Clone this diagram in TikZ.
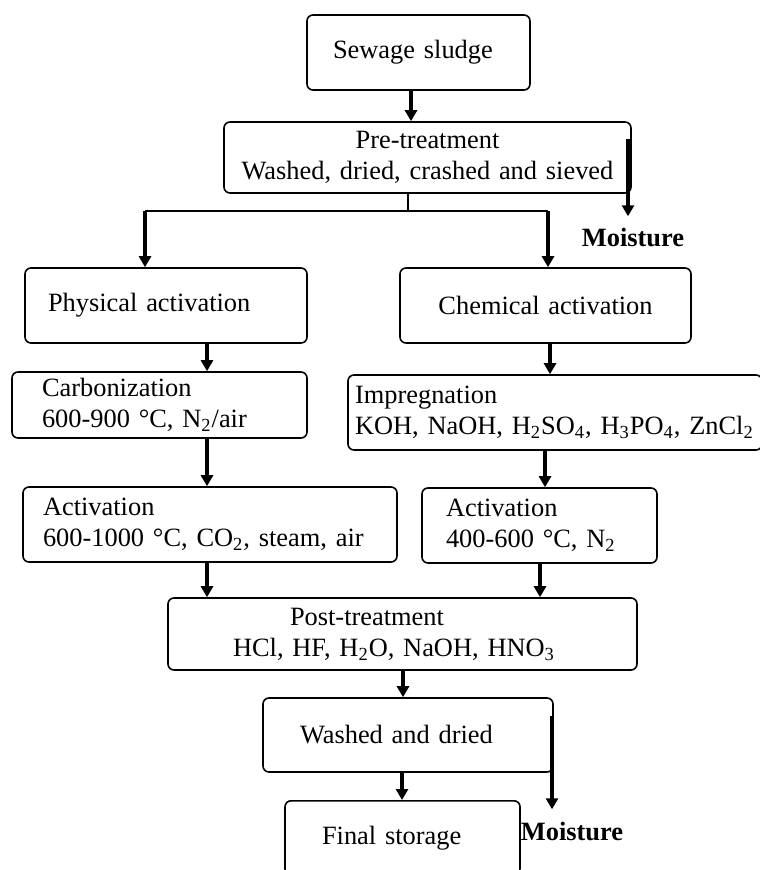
\documentclass[tikz,border=0pt]{standalone}
\usepackage{fontspec}
\setmainfont{Liberation Serif}
\usetikzlibrary{arrows.meta}

\begin{document}
\begin{tikzpicture}[x=0.5pt, y=-0.5pt, font=\fontsize{13.2}{15.5}\selectfont,
	block/.style = { rectangle, draw=black, line width=0.8pt, rounded corners=3pt,
	inner ysep=0pt, align=left },
	flow/.style = { line width=2pt, -{Triangle[length=5.5pt,width=6pt]} },
	note/.style = { font=\fontsize{13.2}{15.5}\selectfont\bfseries, inner sep=0pt } ]

  \useasboundingbox (0,0) rectangle (759,870);

  \node [name=sludge, block, minimum height=37.5pt,
	inner xsep=13pt, text width=85.5pt] at (418.5,52.5) { Sewage sludge };
  \node [name=pretreat, block, align=center, minimum height=35.5pt,
	inner xsep=4pt, text width=195.5pt] at (427.5,157.5)
	{ Pre-treatment\hspace*{16pt}\\ \mbox{Washed, dried, crashed and sieved} };
  \node [name=physical, block, minimum height=37.5pt,
	inner xsep=11.5pt, text width=118pt] at (166,305.5) { Physical activation };
  \node [name=chemical, block, align=center, minimum height=37.5pt,
	inner xsep=4pt, text width=137.5pt] at (545.5,305.5) { Chemical activation };
  \node [name=carbon, block, minimum height=33pt,
	inner xsep=15pt, text width=117.5pt] at (159.5,405)
	{ Carbonization\\ 600-900 °C, N\textsubscript{2}/air };
  \node [name=impreg, block, minimum height=37.5pt,
	inner xsep=3.5pt, text width=200pt] at (555,412.5)
	{ Impregnation\\ \mbox{KOH, NaOH, H\textsubscript{2}SO\textsubscript{4},
	H\textsubscript{3}PO\textsubscript{4}, ZnCl\textsubscript{2}} };
  \node [name=act1, block, minimum height=37.5pt,
	inner xsep=10pt, text width=167pt] at (210,524.5)
	{ Activation\\ 600-1000 °C, CO\textsubscript{2}, steam, air };
  \node [name=act2, block, minimum height=37.5pt,
	inner xsep=12pt, text width=93.5pt] at (539.5,525.5)
	{ Activation\\ 400-600 °C, N\textsubscript{2} };
  \node [name=post, block, minimum height=36pt,
	inner xsep=32.5pt, text width=169.5pt] at (402.5,634)
	{ \hspace*{28.5pt}Post-treatment\\
	HCl, HF, H\textsubscript{2}O, NaOH, HNO\textsubscript{3} };
  \node [name=washed, block, minimum height=37pt,
	inner xsep=18.5pt, text width=108pt] at (408,735) { Washed and dried };
  \node [name=final, block, anchor=north, minimum height=37pt,
	inner xsep=18.5pt, text width=80.5pt] at (402.5,800) { Final storage };
  \node [name=moist1, note] at (633,238) { Moisture };
  \node [name=moist2, note] at (572,831) { Moisture };

  \coordinate (split) at (408,211);
  \coordinate (bl) at (145,211);
  \coordinate (br) at (548,211);

  \draw [flow] (sludge.south -| 411,0) -- (pretreat.north -| 411,0);
  \draw [flow] (pretreat.north east -| 628,0) ++(0,18)
	-- ([yshift=6pt]moist1.north -| 628,0);
  \draw [line width=0.8pt] (split |- pretreat.south) -- (split);
  \draw [line width=1pt] (bl) -- (br);
  \draw [flow] (bl) -- (bl |- physical.north);
  \draw [flow] (br) -- (br |- chemical.north);
  \draw [flow] (physical.south -| 207,0) -- (carbon.north -| 207,0);
  \draw [flow] (chemical.south -| 550,0) -- (impreg.north -| 550,0);
  \draw [flow] (carbon.south -| 207,0) -- (act1.north -| 207,0);
  \draw [flow] (impreg.south -| 545,0) -- (act2.north -| 545,0);
  \draw [flow] (act1.south -| 207,0) -- (post.north -| 207,0);
  \draw [flow] (act2.south -| 540,0) -- (post.north -| 540,0);
  \draw [flow] (post.south -| 403,0) -- (washed.north -| 403,0);
  \draw [flow] (washed.south -| 402,0) -- (final.north -| 402,0);
  \draw [flow] (washed.north east -| 552,0) ++(0,19)
	-- ([yshift=6pt]moist2.north -| 552,0);
\end{tikzpicture}
\end{document}
